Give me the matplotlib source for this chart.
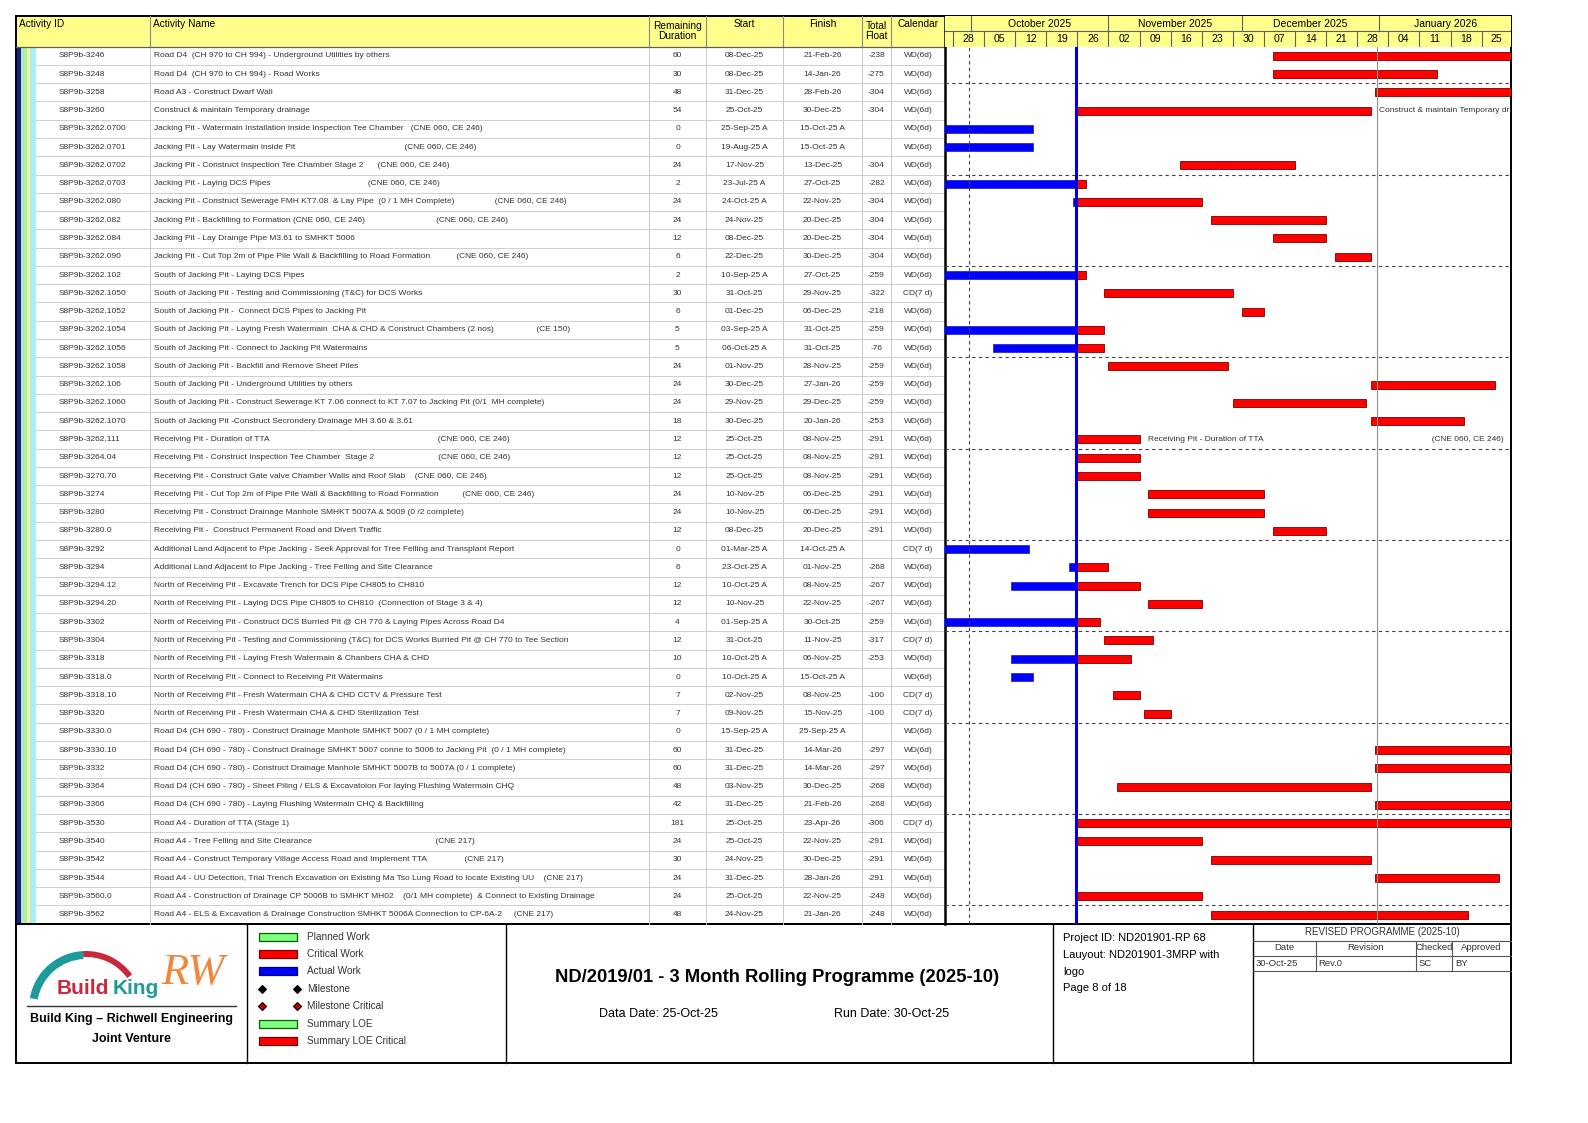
import matplotlib
matplotlib.use('Agg')
import matplotlib.pyplot as plt
import matplotlib.patches as mpatches
import numpy as np
import pandas as pd

plt.rcParams['font.family'] = ['Liberation Sans Narrow', 'Liberation Sans', 'DejaVu Sans']

# ---------------- data ----------------
act_ids = [
    'S8P9b-3246', 'S8P9b-3248', 'S8P9b-3258', 'S8P9b-3260',
    'S8P9b-3262.0700', 'S8P9b-3262.0701', 'S8P9b-3262.0702', 'S8P9b-3262.0703',
    'S8P9b-3262.080', 'S8P9b-3262.082', 'S8P9b-3262.084', 'S8P9b-3262.090',
    'S8P9b-3262.102', 'S8P9b-3262.1050', 'S8P9b-3262.1052', 'S8P9b-3262.1054',
    'S8P9b-3262.1056', 'S8P9b-3262.1058', 'S8P9b-3262.106', 'S8P9b-3262.1060',
    'S8P9b-3262.1070', 'S8P9b-3262.111', 'S8P9b-3264.04', 'S8P9b-3270.70',
    'S8P9b-3274', 'S8P9b-3280', 'S8P9b-3280.0', 'S8P9b-3292',
    'S8P9b-3294', 'S8P9b-3294.12', 'S8P9b-3294.20', 'S8P9b-3302',
    'S8P9b-3304', 'S8P9b-3318', 'S8P9b-3318.0', 'S8P9b-3318.10',
    'S8P9b-3320', 'S8P9b-3330.0', 'S8P9b-3330.10', 'S8P9b-3332',
    'S8P9b-3364', 'S8P9b-3366', 'S8P9b-3530', 'S8P9b-3540',
    'S8P9b-3542', 'S8P9b-3544', 'S8P9b-3560.0', 'S8P9b-3562',
]

act_names = [
    'Road D4  (CH 970 to CH 994) - Underground Utilities by others',
    'Road D4  (CH 970 to CH 994) - Road Works',
    'Road A3 - Construct Dwarf Wall',
    'Construct & maintain Temporary drainage',
    'Jacking Pit - Watermain Installation inside Inspection Tee Chamber   (CNE 060, CE 246)',
    'Jacking Pit - Lay Watermain inside Pit                                              (CNE 060, CE 246)',
    'Jacking Pit - Construct Inspection Tee Chamber Stage 2      (CNE 060, CE 246)',
    'Jacking Pit - Laying DCS Pipes                                         (CNE 060, CE 246)',
    'Jacking Pit - Construct Sewerage FMH KT7.08  & Lay Pipe  (0 / 1 MH Complete)                 (CNE 060, CE 246)',
    'Jacking Pit - Backfilling to Formation (CNE 060, CE 246)                              (CNE 060, CE 246)',
    'Jacking Pit - Lay Drainge Pipe M3.61 to SMHKT 5006',
    'Jacking Pit - Cut Top 2m of Pipe Pile Wall & Backfilling to Road Formation           (CNE 060, CE 246)',
    'South of Jacking Pit - Laying DCS Pipes',
    'South of Jacking Pit - Testing and Commissioning (T&C) for DCS Works',
    'South of Jacking Pit -  Connect DCS Pipes to Jacking Pit',
    'South of Jacking Pit - Laying Fresh Watermain  CHA & CHD & Construct Chambers (2 nos)                  (CE 150)',
    'South of Jacking Pit - Connect to Jacking Pit Watermains',
    'South of Jacking Pit - Backfill and Remove Sheet Piles',
    'South of Jacking Pit - Underground Utilities by others',
    'South of Jacking Pit - Construct Sewerage KT 7.06 connect to KT 7.07 to Jacking Pit (0/1  MH complete)',
    'South of Jacking Pit -Construct Secrondery Drainage MH 3.60 & 3.61',
    'Receiving Pit - Duration of TTA                                                                       (CNE 060, CE 246)',
    'Receiving Pit - Construct Inspection Tee Chamber  Stage 2                           (CNE 060, CE 246)',
    'Receiving Pit - Construct Gate valve Chamber Walls and Roof Slab    (CNE 060, CE 246)',
    'Receiving Pit - Cut Top 2m of Pipe Pile Wall & Backfilling to Road Formation          (CNE 060, CE 246)',
    'Receiving Pit - Construct Drainage Manhole SMHKT 5007A & 5009 (0 /2 complete)',
    'Receiving Pit -  Construct Permanent Road and Divert Traffic',
    'Additional Land Adjacent to Pipe Jacking - Seek Approval for Tree Felling and Transplant Report',
    'Additional Land Adjacent to Pipe Jacking - Tree Felling and Site Clearance',
    'North of Receiving Pit - Excavate Trench for DCS Pipe CH805 to CH810',
    'North of Receiving Pit - Laying DCS Pipe CH805 to CH810  (Connection of Stage 3 & 4)',
    'North of Receiving Pit - Construct DCS Burried Pit @ CH 770 & Laying Pipes Across Road D4',
    'North of Receiving Pit - Testing and Commissioning (T&C) for DCS Works Burried Pit @ CH 770 to Tee Section',
    'North of Receiving Pit - Laying Fresh Watermain & Chanbers CHA & CHD',
    'North of Receiving Pit - Connect to Receiving Pit Watermains',
    'North of Receiving Pit - Fresh Watermain CHA & CHD CCTV & Pressure Test',
    'North of Receiving Pit - Fresh Watermain CHA & CHD Sterilization Test',
    'Road D4 (CH 690 - 780) - Construct Drainage Manhole SMHKT 5007 (0 / 1 MH complete)',
    'Road D4 (CH 690 - 780) - Construct Drainage SMHKT 5007 conne to 5006 to Jacking Pit  (0 / 1 MH complete)',
    'Road D4 (CH 690 - 780) - Construct Drainage Manhole SMHKT 5007B to 5007A (0 / 1 complete)',
    'Road D4 (CH 690 - 780) - Sheet Piling / ELS & Excavatoion For laying Flushing Watermain CHQ',
    'Road D4 (CH 690 - 780) - Laying Flushing Watermain CHQ & Backfilling',
    'Road A4 - Duration of TTA (Stage 1)',
    'Road A4 - Tree Felling and Site Clearance                                                    (CNE 217)',
    'Road A4 - Construct Temporary Village Access Road and Implement TTA                (CNE 217)',
    'Road A4 - UU Detection, Trial Trench Excavation on Existing Ma Tso Lung Road to locate Existing UU    (CNE 217)',
    'Road A4 - Construction of Drainage CP 5006B to SMHKT MH02    (0/1 MH complete)  & Connect to Existing Drainage',
    'Road A4 - ELS & Excavation & Drainage Construction SMHKT 5006A Connection to CP-6A-2     (CNE 217)',
]

rem_dur = [60, 30, 48, 54, 0, 0, 24, 2, 24, 24, 12, 6, 2, 30, 6, 5, 5, 24, 24, 24,
           18, 12, 12, 12, 24, 24, 12, 0, 6, 12, 12, 4, 12, 10, 0, 7, 7, 0, 60, 60,
           48, 42, 181, 24, 30, 24, 24, 48]

start = [
    '08-Dec-25', '08-Dec-25', '31-Dec-25', '25-Oct-25', '25-Sep-25 A', '19-Aug-25 A',
    '17-Nov-25', '23-Jul-25 A', '24-Oct-25 A', '24-Nov-25', '08-Dec-25', '22-Dec-25',
    '10-Sep-25 A', '31-Oct-25', '01-Dec-25', '03-Sep-25 A', '06-Oct-25 A', '01-Nov-25',
    '30-Dec-25', '29-Nov-25', '30-Dec-25', '25-Oct-25', '25-Oct-25', '25-Oct-25',
    '10-Nov-25', '10-Nov-25', '08-Dec-25', '01-Mar-25 A', '23-Oct-25 A', '10-Oct-25 A',
    '10-Nov-25', '01-Sep-25 A', '31-Oct-25', '10-Oct-25 A', '10-Oct-25 A', '02-Nov-25',
    '09-Nov-25', '15-Sep-25 A', '31-Dec-25', '31-Dec-25', '03-Nov-25', '31-Dec-25',
    '25-Oct-25', '25-Oct-25', '24-Nov-25', '31-Dec-25', '25-Oct-25', '24-Nov-25',
]

finish = [
    '21-Feb-26', '14-Jan-26', '28-Feb-26', '30-Dec-25', '15-Oct-25 A', '15-Oct-25 A',
    '13-Dec-25', '27-Oct-25', '22-Nov-25', '20-Dec-25', '20-Dec-25', '30-Dec-25',
    '27-Oct-25', '29-Nov-25', '06-Dec-25', '31-Oct-25', '31-Oct-25', '28-Nov-25',
    '27-Jan-26', '29-Dec-25', '20-Jan-26', '08-Nov-25', '08-Nov-25', '08-Nov-25',
    '06-Dec-25', '06-Dec-25', '20-Dec-25', '14-Oct-25 A', '01-Nov-25', '08-Nov-25',
    '22-Nov-25', '30-Oct-25', '11-Nov-25', '06-Nov-25', '15-Oct-25 A', '08-Nov-25',
    '15-Nov-25', '25-Sep-25 A', '14-Mar-26', '14-Mar-26', '30-Dec-25', '21-Feb-26',
    '23-Apr-26', '22-Nov-25', '30-Dec-25', '28-Jan-26', '22-Nov-25', '21-Jan-26',
]

total_float = ['-238', '-275', '-304', '-304', '', '', '-304', '-282', '-304', '-304',
               '-304', '-304', '-259', '-322', '-218', '-259', '-76', '-259', '-259', '-259',
               '-253', '-291', '-291', '-291', '-291', '-291', '-291', '', '-268', '-267',
               '-267', '-259', '-317', '-253', '', '-100', '-100', '', '-297', '-297',
               '-268', '-268', '-306', '-291', '-291', '-291', '-248', '-248']

calendar = ['CD(7 d)' if i in (13, 27, 32, 35, 36, 42) else 'WD(6d)' for i in range(48)]

bar_label_rows = [3, 21]
data_date = pd.Timestamp('2025-10-25')

legend_labels = ['Planned Work', 'Critical Work', 'Actual Work', 'Milestone',
                 'Milestone Critical', 'Summary LOE', 'Summary LOE Critical']

# ---------------- helpers ----------------
def to_day(s):
    return (pd.to_datetime(s.replace(' A', ''), format='%d-%b-%y') - data_date).days

W, H = 1588, 1123
fig = plt.figure(figsize=(W / 100, H / 100), dpi=100)
page = fig.add_axes([0, 0, 1, 1])
page.set_xlim(0, W)
page.set_ylim(H, 0)
page.axis('off')


def rect(x0, y0, x1, y1):
    return [x0 / W, 1 - y1 / H, (x1 - x0) / W, (y1 - y0) / H]


L, R = 16, 1511
HEAD_T, HEAD_B = 16, 46.6
TAB_B, FOOT_B = 923.7, 1063.4
col_x = [16, 150, 649, 706, 783, 862, 891, 945]
n = len(act_ids)
row_h = (TAB_B - HEAD_B) / n
fs = 6.0
HDR_YEL = '#ffff8c'

# ---------------- table ----------------
page.add_patch(mpatches.Rectangle((L, HEAD_T), col_x[-1] - L, HEAD_B - HEAD_T,
                                  facecolor=HDR_YEL, edgecolor='none'))
for x in col_x[1:-1]:
    page.plot([x, x], [HEAD_T, HEAD_B], color='#8a8a8a', lw=0.8)
    page.plot([x, x], [HEAD_B, TAB_B], color='#c8c8c8', lw=0.7)
page.plot([L, col_x[-1]], [HEAD_B, HEAD_B], color='#606060', lw=0.9)

# colour bands at left
for x0, x1, c in [(16, 20.5, '#1c1c8c'), (20.5, 26.5, '#a8f0b0'), (26.5, 30, '#f4f4a0'), (30, 36, '#a8f0f4')]:
    page.add_patch(mpatches.Rectangle((x0, HEAD_B), x1 - x0, TAB_B - HEAD_B, facecolor=c, edgecolor='none'))

for k in range(1, n):
    yb = HEAD_B + k * row_h
    page.plot([36, col_x[-1]], [yb, yb], color='#cfcfcf', lw=0.7)

hdr_kw = dict(fontsize=7.3, va='center')
page.text(19, 24, 'Activity ID', ha='left', **hdr_kw)
page.text(153, 24, 'Activity Name', ha='left', **hdr_kw)
page.text((col_x[2] + col_x[3]) / 2, 31, 'Remaining\nDuration', ha='center', linespacing=1.0, **hdr_kw)
page.text((col_x[3] + col_x[4]) / 2, 24, 'Start', ha='center', **hdr_kw)
page.text((col_x[4] + col_x[5]) / 2, 24, 'Finish', ha='center', **hdr_kw)
page.text((col_x[5] + col_x[6]) / 2, 31, 'Total\nFloat', ha='center', linespacing=1.0, **hdr_kw)
page.text((col_x[6] + col_x[7]) / 2, 24, 'Calendar', ha='center', **hdr_kw)

txt_c = '#333333'
for i in range(n):
    y = HEAD_B + (i + 0.5) * row_h
    page.text(59, y, act_ids[i], ha='left', va='center', fontsize=fs, color=txt_c)
    page.text(154, y, act_names[i], ha='left', va='center', fontsize=fs, color=txt_c)
    page.text((col_x[2] + col_x[3]) / 2, y, str(rem_dur[i]), ha='center', va='center', fontsize=fs, color=txt_c)
    page.text((col_x[3] + col_x[4]) / 2, y, start[i], ha='center', va='center', fontsize=fs, color=txt_c)
    page.text((col_x[4] + col_x[5]) / 2, y, finish[i], ha='center', va='center', fontsize=fs, color=txt_c)
    page.text((col_x[5] + col_x[6]) / 2, y, total_float[i], ha='center', va='center', fontsize=fs, color=txt_c)
    page.text((col_x[6] + col_x[7]) / 2, y, calendar[i], ha='center', va='center', fontsize=fs, color=txt_c)

# ---------------- gantt ----------------
x_lo, x_hi = -29.8, 97.6
gx = fig.add_axes(rect(col_x[-1], HEAD_B, R, TAB_B))
gx.set_xlim(x_lo, x_hi)
gx.set_ylim(n, 0)
gx.axis('off')

dd = 0
for i in range(n):
    s, f = to_day(start[i]), to_day(finish[i])
    s_act, f_act = start[i].endswith(' A'), finish[i].endswith(' A')
    if s_act and f_act:
        gx.barh(i + 0.5, f - s, left=s, height=0.44, color='#0000ff', edgecolor='#0000a0', lw=0.4)
    elif s_act:
        gx.barh(i + 0.5, dd - s, left=s, height=0.44, color='#0000ff', edgecolor='#0000a0', lw=0.4)
        gx.barh(i + 0.5, f - dd, left=dd, height=0.44, color='#ff0000', edgecolor='#7a0000', lw=0.6)
    else:
        gx.barh(i + 0.5, f - s, left=s, height=0.44, color='#ff0000', edgecolor='#7a0000', lw=0.6)
    if i in bar_label_rows:
        gx.text(f + 2, i + 0.5, act_names[i], ha='left', va='center', fontsize=fs,
                color=txt_c, clip_on=True)

for k in range(2, n + 1, 5):
    gx.axhline(k, color='#404040', lw=0.8, ls=(0, (3, 3)))
gx.axvline((pd.Timestamp('2025-10-01') - data_date).days - 0.5, color='#404040', lw=0.8, ls=(0, (3, 3)))
gx.axvline((pd.Timestamp('2026-01-01') - data_date).days - 0.5, color='#909090', lw=0.8)
gx.axvline(dd - 0.3, color='#0000dd', lw=2.2)

# timescale header
hx = fig.add_axes(rect(col_x[-1], HEAD_T, R, HEAD_B))
hx.set_xlim(x_lo, x_hi)
hx.set_ylim(2, 0)
hx.set_facecolor(HDR_YEL)
hx.set_xticks([])
hx.set_yticks([])
for sp in hx.spines.values():
    sp.set_visible(False)
hx.axhline(1, color='#606060', lw=0.8)

months = pd.date_range('2025-09-01', '2026-02-01', freq='MS')
m_days = [(m - data_date).days for m in months]
for j in range(len(months) - 1):
    a, b = max(m_days[j], x_lo), min(m_days[j + 1], x_hi)
    if m_days[j] > x_lo:
        hx.plot([m_days[j]] * 2, [0, 1], color='#606060', lw=0.8)
    if b - a > 15:
        hx.text((a + b) / 2, 0.5, months[j].strftime('%B %Y'), ha='center', va='center', fontsize=7.5)

weeks = np.arange(-35, 105, 7)
for w in weeks:
    if x_lo < w < x_hi:
        hx.plot([w, w], [1, 2], color='#606060', lw=0.8)
    a, b = max(w, x_lo), min(w + 7, x_hi)
    if b - a > 3:
        lab = (data_date + pd.Timedelta(days=int(w) + 1)).strftime('%d')
        hx.text((a + b) / 2, 1.5, lab, ha='center', va='center', fontsize=7.6)

# frames
page.add_patch(mpatches.Rectangle((L, HEAD_T), R - L, TAB_B - HEAD_T, fill=False, edgecolor='black', lw=1.4))
page.plot([col_x[-1], col_x[-1]], [HEAD_T, TAB_B], color='black', lw=1.8)

# ---------------- footer ----------------
page.add_patch(mpatches.Rectangle((L, TAB_B), R - L, FOOT_B - TAB_B, fill=False, edgecolor='black', lw=1.4))
for x in [247, 506.4, 1053.3, 1252.8]:
    page.plot([x, x], [TAB_B, FOOT_B], color='black', lw=1.0)

# logo
teal, red_l = '#1f9a9c', '#c8283c'
page.add_patch(mpatches.Wedge((86, 1008), 57, -170, -93, width=8, facecolor=teal, edgecolor='none'))
page.add_patch(mpatches.Wedge((86, 1008), 57, -93, -36, width=6, facecolor=red_l, edgecolor='none'))
page.text(109, 988, 'Build', ha='right', va='center', fontsize=15, fontweight='bold',
          color=red_l, family=['Liberation Sans', 'DejaVu Sans'])
page.text(113, 988, 'King', ha='left', va='center', fontsize=15, fontweight='bold',
          color=teal, family=['Liberation Sans', 'DejaVu Sans'])
page.text(193, 973, 'RW', ha='center', va='center', fontsize=32, style='italic',
          color='#f0873c', family=['Liberation Serif', 'DejaVu Serif'])
page.plot([27, 236], [1006, 1006], color='#333333', lw=1.0)
page.text(131, 1019, 'Build King \u2013 Richwell Engineering', ha='center', va='center',
          fontsize=9.0, fontweight='bold', family=['Liberation Sans', 'DejaVu Sans'])
page.text(131, 1039, 'Joint Venture', ha='center', va='center', fontsize=9.0,
          fontweight='bold', family=['Liberation Sans', 'DejaVu Sans'])

# legend
leg_y = [937, 954, 971, 988.5, 1005.7, 1024, 1041]
leg_face = ['#80ff80', '#ff0000', '#0000ff', 'black', '#c00000', '#80ff80', '#ff0000']
leg_edge = ['#006000', '#7a0000', '#000080', 'black', 'black', '#006000', '#7a0000']
for lab, y, fc, ec in zip(legend_labels, leg_y, leg_face, leg_edge):
    if 'Milestone' in lab:
        page.plot([262, 297], [y, y], ls='none', marker='D', markersize=4.5,
                  markerfacecolor=fc, markeredgecolor=ec, markeredgewidth=0.8)
    else:
        page.add_patch(mpatches.Rectangle((259, y - 3.6), 38, 7.2, facecolor=fc, edgecolor=ec, lw=0.9))
    page.text(307, y, lab, ha='left', va='center', fontsize=7.2, color='#333333')

# title block
page.text(777, 977, 'ND/2019/01 - 3 Month Rolling Programme (2025-10)', ha='center', va='center',
          fontsize=13.2, fontweight='bold')
page.text(658, 1014, 'Data Date: 25-Oct-25', ha='center', va='center', fontsize=9.0)
page.text(892, 1014, 'Run Date: 30-Oct-25', ha='center', va='center', fontsize=9.0)

proj_lines = ['Project ID: ND201901-RP 68', 'Lauyout: ND201901-3MRP with', 'logo', 'Page 8 of 18']
for k, t in enumerate(proj_lines):
    page.text(1063, 938 + k * 16.8, t, ha='left', va='center', fontsize=8.0)

# revision table
rv_cols = [1252.8, 1315.6, 1416, 1452.4, R]
page.text((rv_cols[0] + R) / 2, 932, 'REVISED PROGRAMME (2025-10)', ha='center', va='center',
          fontsize=7.0, color='#333333')
for y in [940.5, 955.5, 970.5]:
    page.plot([rv_cols[0], R], [y, y], color='#555555', lw=0.8)
for x in rv_cols[1:-1]:
    page.plot([x, x], [940.5, 970.5], color='#555555', lw=0.8)
rv_head = ['Date', 'Revision', 'Checked', 'Approved']
rv_vals = ['30-Oct-25', 'Rev.0', 'SC', 'BY']
for j in range(4):
    page.text((rv_cols[j] + rv_cols[j + 1]) / 2, 948, rv_head[j], ha='center', va='center',
              fontsize=6.8, color='#333333')
    page.text(rv_cols[j] + 2.5, 963, rv_vals[j], ha='left', va='center', fontsize=6.8, color='#333333')

fig.savefig('out.png', dpi=100, facecolor='white')
